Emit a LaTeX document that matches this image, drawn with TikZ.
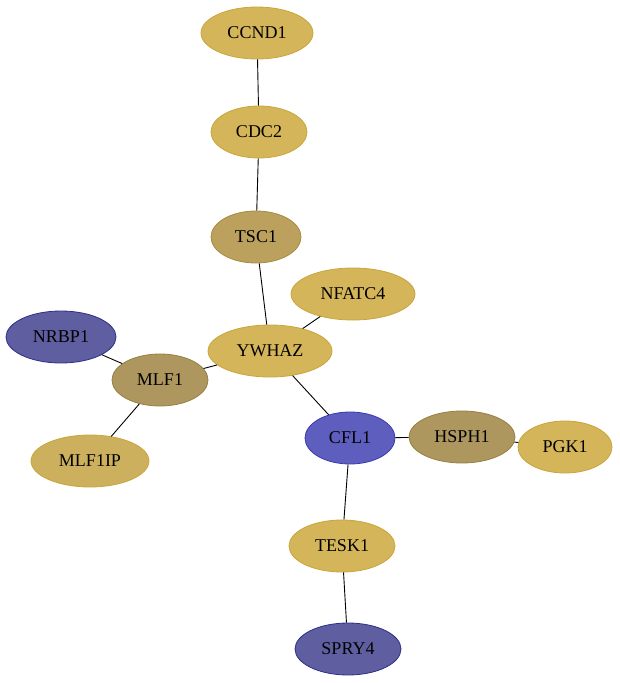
\documentclass[tikz,border=0pt]{standalone}
\usepackage{fontspec}
\setmainfont{Liberation Serif}
\usetikzlibrary{shapes.geometric}
\definecolor{goldF}{HTML}{D4B55A}
\definecolor{goldD}{HTML}{C9A53A}
\definecolor{olvF}{HTML}{BBA05E}
\definecolor{olvD}{HTML}{A68D3E}
\definecolor{brnF}{HTML}{AD975E}
\definecolor{brnD}{HTML}{978044}
\definecolor{mlipF}{HTML}{CDB05E}
\definecolor{bluF}{HTML}{5E5EA0}
\definecolor{bluD}{HTML}{2E2E8A}
\definecolor{cflF}{HTML}{5E5EBF}
\definecolor{cflD}{HTML}{3A3AB0}
\tikzset{
  gn/.style={ellipse, draw, line width=0.8pt, minimum height=52pt, inner sep=0pt, font=\fontsize{18}{20}\selectfont},
  gold/.style={gn, fill=goldF, draw=goldD},
  olive/.style={gn, fill=olvF, draw=olvD},
  brown/.style={gn, fill=brnF, draw=brnD},
  blue/.style={gn, fill=bluF, draw=bluD},
  cfl/.style={gn, fill=cflF, draw=cflD},
  ed/.style={draw=black, line width=0.9pt}
}
\begin{document}
\begin{tikzpicture}[x=1pt,y=-1pt]
\useasboundingbox (0,0) rectangle (619,683);
\node[gold, minimum width=112pt] (ccnd1) at (257,33) {CCND1};
\node[gold, minimum width=96pt] (cdc2) at (259,132) {CDC2};
\node[olive, minimum width=90pt] (tsc1) at (256,237) {TSC1};
\node[gold, minimum width=124pt] (nfatc4) at (353,294) {NFATC4};
\node[gold, minimum width=124pt] (ywhaz) at (270,351) {YWHAZ};
\node[blue, minimum width=110pt] (nrbp1) at (61,337) {NRBP1};
\node[brown, minimum width=96pt] (mlf1) at (160,380) {MLF1};
\node[gold, fill=mlipF, minimum width=118pt] (mlf1ip) at (90,461) {MLF1IP};
\node[cfl, minimum width=90pt] (cfl1) at (350,438) {CFL1};
\node[brown, minimum width=106pt] (hsph1) at (462,437) {HSPH1};
\node[gold, minimum width=94pt] (pgk1) at (565,447) {PGK1};
\node[gold, minimum width=106pt] (tesk1) at (342,546) {TESK1};
\node[blue, minimum width=106pt] (spry4) at (348,649) {SPRY4};
\draw[ed] (ccnd1) -- (cdc2);
\draw[ed] (cdc2) -- (tsc1);
\draw[ed] (tsc1) -- (ywhaz);
\draw[ed] (nfatc4) -- (ywhaz);
\draw[ed] (ywhaz) -- (mlf1);
\draw[ed] (nrbp1) -- (mlf1);
\draw[ed] (mlf1) -- (mlf1ip);
\draw[ed] (ywhaz) -- (cfl1);
\draw[ed] (cfl1) -- (hsph1);
\draw[ed] (hsph1) -- (pgk1);
\draw[ed] (cfl1) -- (tesk1);
\draw[ed] (tesk1) -- (spry4);
\end{tikzpicture}
\end{document}
